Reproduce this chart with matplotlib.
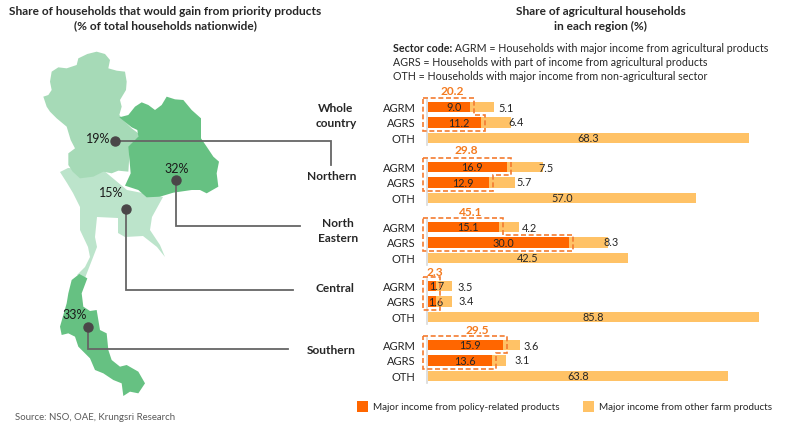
import matplotlib
matplotlib.use("Agg")
import matplotlib.pyplot as plt
from matplotlib.patches import Polygon, Rectangle

plt.rcParams["font.family"] = ["Lato", "DejaVu Sans"]

# ---- data ----
regions = ["Whole\ncountry", "Northern", "North\nEastern", "Central", "Southern"]
sectors = ["AGRM", "AGRS", "OTH"]
policy_agrm = [9.0, 16.9, 15.1, 1.7, 15.9]
policy_agrs = [11.2, 12.9, 30.0, 1.6, 13.6]
other_agrm = [5.1, 7.5, 4.2, 3.5, 3.6]
other_agrs = [6.4, 5.7, 8.3, 3.4, 3.1]
oth = [68.3, 57.0, 42.5, 85.8, 63.8]
totals = ["20.2", "29.8", "45.1", "2.3", "29.5"]
map_labels = ["19%", "32%", "15%", "33%"]

ORANGE = "#FF6600"
LIGHT = "#FFC266"
DASH = "#F47B30"
DARK = "#262626"
LINE = "#666666"

# ---- layout, in pixels of the 800x430 picture ----
BAR_LEFT, BAR_RIGHT = 428, 759
PX_PER_UNIT = 4.7
group_y = [107, 167, 227, 286, 345]
ROW_STEP = 15.5
BAR_H = 10.5
total_x = [5.1, 8.1, 9.1, 1.5, 10.4]
total_y = [91, 150, 212, 272, 330]
# gap between the end of the light bar and its label centre
agrm_gap = [12, 3, 11, 13, 12]
agrs_gap = [5, 9, 3, 14.5, 16]
region_x = [336, 332, 338, 335, 331]
region_y = [116, 176, 231, 288, 351]

northern = [(130,170),(145,165),(155,150),(150,125),(155,95),(175,82),(200,85),(230,75),(235,55),(262,42),(290,35),(315,42),(330,60),
            (325,85),(350,92),(375,95),(380,125),(378,150),(360,180),(365,200),(358,225),(375,245),(395,265),(415,280),(415,300),(390,320),
            (385,395),(355,392),(335,400),(310,395),(280,410),(240,415),(218,395),(205,375),(205,340),(225,325),(212,300),
            (200,260),(170,235),(150,215),(140,200)]
north_east = [(358,232),(385,225),(405,200),(425,187),(445,195),(465,210),(485,195),(500,170),(525,178),(550,180),(575,210),(603,235),
              (603,295),(620,320),(640,350),(657,365),(650,400),(655,440),(620,460),(600,450),(575,450),(520,458),(480,470),
              (440,472),(415,450),(375,437),(392,400),(385,320),(415,290),(412,270),(395,262)]
central = [(60,172),(67,183),(73,193),(80,207),(80,230),(88,247),(90,257),(85,267),(77,275),(85,278),(92,260),(97,247),
           (95,237),(97,217),(118,218),(118,233),(125,237),(143,236),(157,247),(165,257),(160,245),(150,230),(152,217),
           (163,197),(127,190),(103,170),(68,168)]
southern = [(238,132),(262,145),(245,190),(250,230),(270,243),(290,240),(300,300),(320,310),(325,360),(335,390),(360,410),(380,405),
            (415,425),(435,460),(415,490),(390,485),(370,498),(365,460),(340,450),(310,430),(285,420),(270,385),(235,350),(225,320),
            (205,310),(185,315),(180,290),(200,220),(205,190),(215,150)]
northern = [(x / 3, 40 + y / 3) for x, y in northern]
north_east = [(x / 3, 40 + y / 3) for x, y in north_east]
southern = [(x / 3, 230 + y / 3) for x, y in southern]

fig = plt.figure(figsize=(8, 4.3), dpi=100, facecolor="white")

# full-figure axes in pixel coordinates for map, callouts and text
bg = fig.add_axes([0, 0, 1, 1])
bg.set_xlim(0, 800)
bg.set_ylim(430, 0)
bg.axis("off")

bg.add_patch(Polygon(central, closed=True, fc="#BCE4CB", ec="none", zorder=1))
bg.add_patch(Polygon(northern, closed=True, fc="#A6DAB7", ec="none", zorder=2))
bg.add_patch(Polygon(north_east, closed=True, fc="#66C182", ec="none", zorder=3))
bg.add_patch(Polygon(southern, closed=True, fc="#66C182", ec="none", zorder=2))

callouts = [
    [(115, 141), (331, 141), (331, 165)],
    [(176, 180), (176, 226), (300, 226)],
    [(126, 209), (126, 290), (293, 290)],
    [(88, 327), (88, 349), (288, 349)],
]
for pts in callouts:
    xs, ys = zip(*pts)
    bg.plot(xs, ys, color=LINE, lw=1.3, zorder=4, solid_joinstyle="miter")
    bg.plot(xs[0], ys[0], "o", color="#4A4648", ms=6.5, zorder=5)

for label, (x, y) in zip(map_labels, [(98, 139), (177, 169), (111, 193), (75, 315)]):
    bg.text(x, y, label, fontsize=9, color="#1A1A1A", ha="center", va="center", zorder=6)

bg.text(165.5, 19, "Share of households that would gain from priority products\n(% of total households nationwide)",
        fontsize=8.55, fontweight="bold", color=DARK, ha="center", va="center", linespacing=1.35)
bg.text(601, 19, "Share of agricultural households\nin each region (%)",
        fontsize=8.55, fontweight="bold", color=DARK, ha="center", va="center", linespacing=1.35)

t = bg.text(393, 48, "Sector code:", fontsize=7.65, fontweight="bold", color=DARK, va="center")
bg.annotate(" AGRM = Households with major income from agricultural products", xy=(1, 0.5), xycoords=t,
            fontsize=7.65, color=DARK, va="center")
bg.text(393, 62, "AGRS = Households with part of income from agricultural products", fontsize=7.65, color=DARK, va="center")
bg.text(393, 76, "OTH = Households with major income from non-agricultural sector", fontsize=7.65, color=DARK, va="center")

for name, x, y in zip(regions, region_x, region_y):
    bg.text(x, y, name, fontsize=8.6, fontweight="bold", color=DARK, ha="center", va="center", linespacing=1.35)

bg.text(15, 418, "Source: NSO, OAE, Krungsri Research", fontsize=6.9, color="#595959", va="center")

bg.add_patch(Rectangle((357, 401), 11, 11, fc=ORANGE, ec="none"))
bg.text(373, 407, "Major income from policy-related products", fontsize=7.1, color=DARK, va="center")
bg.add_patch(Rectangle((583, 401), 11, 11, fc=LIGHT, ec="none"))
bg.text(599, 407, "Major income from other farm products", fontsize=7.1, color=DARK, va="center")

# bars: x axis in data units, y axis in picture pixels
AX_TOP, AX_BOTTOM = 95, 385
ax = fig.add_axes([BAR_LEFT / 800, 1 - AX_BOTTOM / 430, (BAR_RIGHT - BAR_LEFT) / 800, (AX_BOTTOM - AX_TOP) / 430])
ax.patch.set_alpha(0)
ax.set_xlim(0, (BAR_RIGHT - BAR_LEFT) / PX_PER_UNIT)
ax.set_ylim(AX_BOTTOM, AX_TOP)
for side in ax.spines.values():
    side.set_visible(False)
ax.set_xticks([])

xmax = ax.get_xlim()[1]
px = 1 / PX_PER_UNIT
yticks, ylabels = [], []
for g in range(len(regions)):
    y0 = group_y[g]
    y1 = y0 + ROW_STEP
    y2 = y0 + 2 * ROW_STEP
    yticks += [y0, y1, y2]
    ylabels += sectors

    ax.barh([y0, y1], [policy_agrm[g], policy_agrs[g]], height=BAR_H, color=ORANGE)
    ax.barh([y0, y1], [other_agrm[g], other_agrs[g]], left=[policy_agrm[g], policy_agrs[g]], height=BAR_H, color=LIGHT)
    ax.barh(y2, oth[g], height=BAR_H, color=LIGHT)
    ax.plot([-1 * px, -1 * px], [y0 - 7, y2 + 7], color="#D9D9D9", lw=1.2, clip_on=False)

    for y, val in zip([y0, y1], [policy_agrm[g], policy_agrs[g]]):
        ax.text(val / 2 + 4.5 * px, y + 0.5, f"{val:.1f}", fontsize=7.8, color=DARK, ha="center", va="center", clip_on=False)
    ax.text(policy_agrm[g] + other_agrm[g] + agrm_gap[g] * px, y0 + 1, f"{other_agrm[g]:.1f}", fontsize=7.8, color=DARK,
            ha="center", va="center")
    ax.text(policy_agrs[g] + other_agrs[g] + agrs_gap[g] * px, y1, f"{other_agrs[g]:.1f}", fontsize=7.8, color=DARK,
            ha="center", va="center")
    ax.text(min(oth[g], xmax) / 2, y2, f"{oth[g]:.1f}", fontsize=7.8, color=DARK, ha="center", va="center")

    # dashed outline around the policy-related part, stepped where the two rows differ
    left = -5 * px
    a = policy_agrm[g] + 4 * px
    b = policy_agrs[g] + 4 * px
    top = y0 - 9
    mid = y0 + 7.5
    bottom = y1 + 8
    box = [(left, top), (a, top), (a, mid), (b, mid), (b, bottom), (left, bottom)]
    ax.add_patch(Polygon(box, closed=True, fc="none", ec=DASH, lw=1.2, ls=(0, (3, 1.6)), clip_on=False, zorder=5))

    ax.text(total_x[g], total_y[g], totals[g], fontsize=8.6, fontweight="bold", color="#F47B20", ha="center", va="center",
            clip_on=False)

ax.set_yticks(yticks)
ax.set_yticklabels(ylabels, fontsize=8, color=DARK)
ax.tick_params(axis="y", length=0, pad=9)

fig.savefig("out.png", dpi=100)
